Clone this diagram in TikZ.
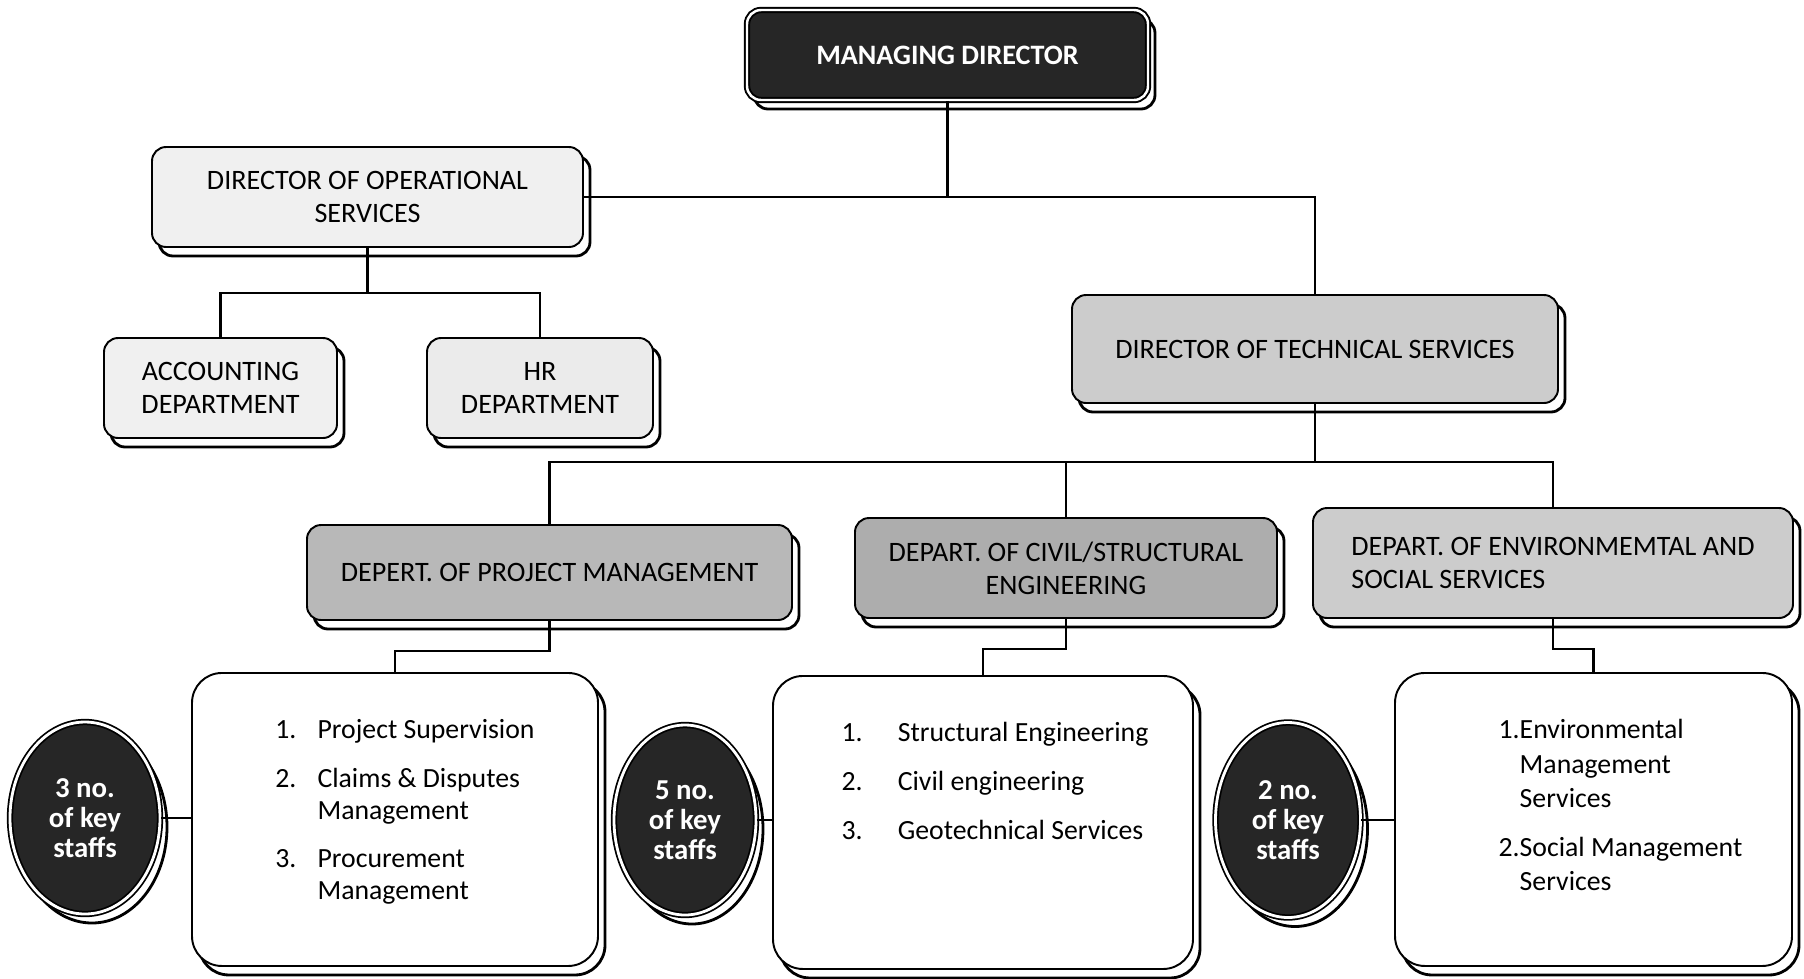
\documentclass[tikz,border=0pt]{standalone}
\usepackage{fontspec}
\setmainfont{Carlito}
\usetikzlibrary{shapes.geometric,shadows}

\begin{document}
\begin{tikzpicture}[x=1cm,y=1cm,
  wire/.style={black,line width=0.65pt},
  shade/.style={drop shadow={shadow xshift=0.7mm,shadow yshift=-0.9mm,fill=white,draw=black,line width=0.8pt,opacity=1}},
  post/.style={draw=black,line width=0.55pt,rounded corners=4pt,inner sep=0pt,align=center,font=\fontsize{8}{9.3}\selectfont,shade},
  head/.style={post,fill=black!85,text=white,font=\bfseries\fontsize{8}{9.3}\selectfont,double=white,double distance=0.7pt},
  duty/.style={draw=black,line width=0.55pt,rounded corners=8.5pt,inner sep=0pt,fill=white,anchor=north,
    text height=0.66cm,text depth=2.27cm,font=\fontsize{7.9}{9.1}\selectfont,shade},
  staff/.style={ellipse,draw=black,line width=0.5pt,fill=black!85,double=white,double distance=0.8pt,inner sep=0pt,
    text=white,align=center,font=\bfseries\fontsize{8.2}{8.6}\selectfont,shade}]
\useasboundingbox (0,0) rectangle (18.04,-9.78);
% top of the chart
\node[head,minimum width=4.01cm,minimum height=0.90cm] (md) at (9.475,-0.55) {MANAGING DIRECTOR};
\node[post,fill=black!6,minimum width=4.31cm,minimum height=1.00cm] (dos) at (3.675,-1.97) {DIRECTOR OF OPERATIONAL\\SERVICES};
\node[post,fill=black!6,minimum width=2.33cm,minimum height=1.00cm] (acc) at (2.205,-3.88) {ACCOUNTING\\DEPARTMENT};
\node[post,fill=black!8,minimum width=2.26cm,minimum height=1.00cm] (hr) at (5.40,-3.88) {HR\\DEPARTMENT};
\node[post,fill=black!20,minimum width=4.86cm,minimum height=1.08cm] (dts) at (13.15,-3.49) {DIRECTOR OF TECHNICAL SERVICES};
% departments
\node[post,fill=black!28,minimum width=4.85cm,minimum height=0.95cm] (pm) at (5.495,-5.725) {DEPERT. OF PROJECT MANAGEMENT};
\node[post,fill=black!32,minimum width=4.22cm,minimum height=1.00cm] (civ) at (10.66,-5.68) {DEPART. OF CIVIL/STRUCTURAL\\ENGINEERING};
\node[post,fill=black!20,minimum width=4.80cm,minimum height=1.10cm,align=left] (env) at (15.53,-5.63) {DEPART. OF ENVIRONMEMTAL AND\\SOCIAL SERVICES};
% duties of each department
\node[duty,minimum width=4.06cm] (pmlist) at (3.95,-6.72) {\hspace*{0.2cm}\begin{tabular}[t]{@{}l@{\hspace{6pt}}l@{}}
  1.&Project Supervision\\[4.6pt]
  2.&Claims \& Disputes\\ &Management\\[4.6pt]
  3.&Procurement\\ &Management
\end{tabular}};
\node[duty,minimum width=4.20cm] (civlist) at (9.83,-6.75) {\hspace*{0.24cm}\begin{tabular}[t]{@{}l@{\hspace{10pt}}l@{}}
  1.&Structural Engineering\\[4.8pt]
  2.&Civil engineering\\[4.8pt]
  3.&Geotechnical Services
\end{tabular}};
\node[duty,minimum width=3.97cm] (envlist) at (15.935,-6.72) {\hspace*{0.54cm}\begin{tabular}[t]{@{}l@{}l@{}}
  1.&Environmental\\[0.6pt] &Management\\[0.6pt] &Services\\[4.9pt]
  2.&Social Management\\[0.6pt] &Services
\end{tabular}};
% key staff
\node[staff,minimum width=1.50cm,minimum height=1.92cm] (o1) at (0.85,-8.18) {3 no.\\of key\\staffs};
\node[staff,minimum width=1.42cm,minimum height=1.90cm] (o2) at (6.85,-8.20) {5 no.\\of key\\staffs};
\node[staff,minimum width=1.45cm,minimum height=1.95cm] (o3) at (12.88,-8.20) {2 no.\\of key\\staffs};
% connectors
\coordinate (obus) at (3.675,-2.93);
\coordinate (tbus) at (13.15,-4.62);
\draw[wire] (md.south) -- (md.south |- dos.east);
\draw[wire] (dos.east) -| (dts.north);
\draw[wire] (dos.south) -- (obus);
\foreach \d in {acc,hr} { \draw[wire] (obus) -| (\d.north); }
\draw[wire] (dts.south) -- (tbus);
\foreach \d in {pm,civ,env} { \draw[wire] (tbus) -| (\d.north); }
\foreach \d in {pm,civ,env} { \draw[wire] (\d.south) -- ++(0,-0.3) -| (\d list.north); }
\draw[wire] (o1.east) -- (o1.east -| pmlist.west);
\draw[wire] (o2.east) -- (o2.east -| civlist.west);
\draw[wire] (o3.east) -- (o3.east -| envlist.west);
\end{tikzpicture}
\end{document}
